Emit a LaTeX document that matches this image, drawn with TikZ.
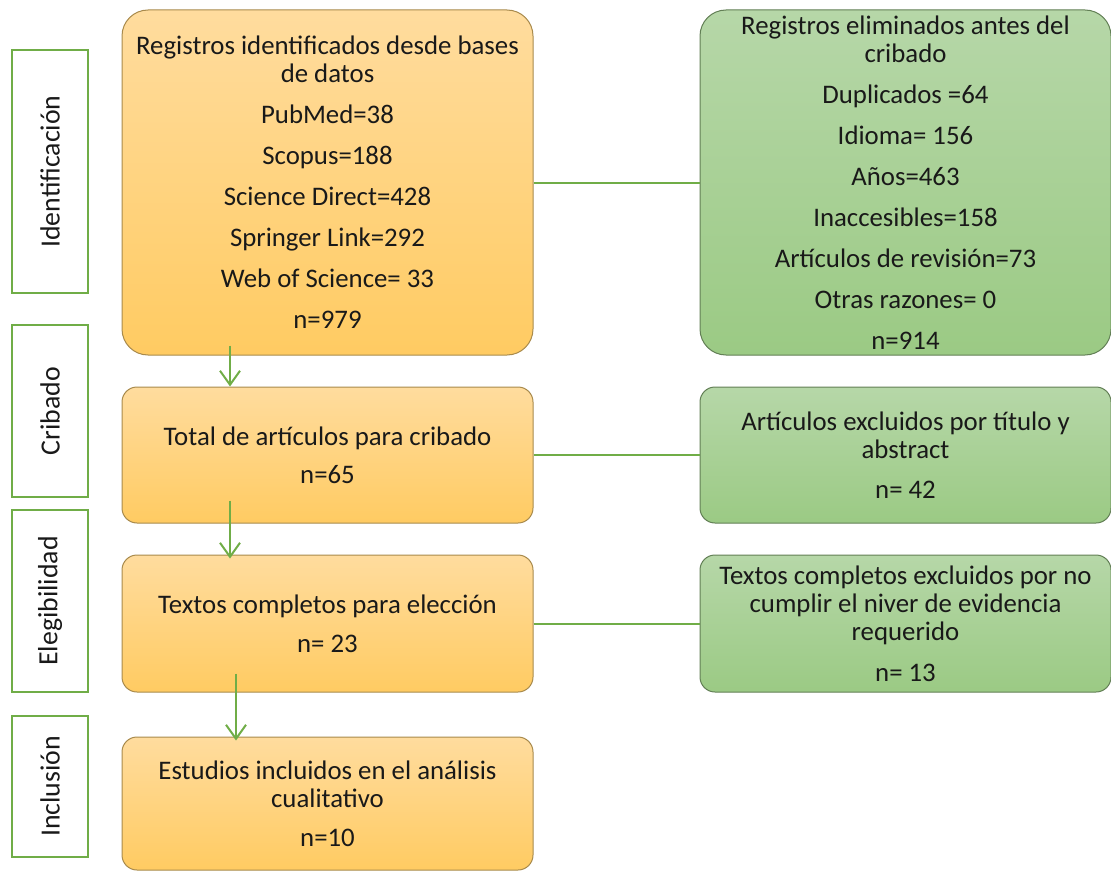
\documentclass[tikz,border=0pt]{standalone}
\usepackage{fontspec}
\setmainfont{Carlito}
\usetikzlibrary{arrows.meta}
\definecolor{lgreen}{HTML}{70AD47}
\definecolor{otop}{HTML}{FFDC9E}
\definecolor{obot}{HTML}{FFCB62}
\definecolor{oborder}{HTML}{A88A4C}
\definecolor{gtop}{HTML}{B6D7A8}
\definecolor{gbot}{HTML}{9BCA84}
\definecolor{gborder}{HTML}{627F55}
\tikzset{
  base/.style={inner sep=0pt, align=center, font=\fontsize{26.8}{28}\selectfont, text=black!90},
  obox/.style={base, draw=oborder, line width=1pt, top color=otop, bottom color=obot},
  gbox/.style={base, draw=gborder, line width=1pt, top color=gtop, bottom color=gbot},
  lblbox/.style={base, font=\fontsize{27.8}{30}\selectfont, draw=lgreen, line width=2pt, fill=white, rotate=90, minimum height=76pt},
  conn/.style={draw=lgreen, line width=2pt},
  arr/.style={conn, -{Straight Barb[length=14pt,width=20pt,line width=2pt]}}
}
\begin{document}
\begin{tikzpicture}[x=1pt,y=-1pt]
\useasboundingbox (0,0) rectangle (1111,872);
% stage labels
\node[lblbox, minimum width=243pt] (l1) at (50,171.5) {Identificación};
\node[lblbox, minimum width=172pt] (l2) at (50,411) {Cribado};
\node[lblbox, minimum width=182pt] (l3) at (50,601) {Elegibilidad};
\node[lblbox, minimum width=141pt] (l4) at (50,786.5) {Inclusión};
% orange boxes
\node[obox, rounded corners=26pt, minimum width=411pt, minimum height=345pt] (b1) at (327.5,182.5)
  {Registros identificados desde bases\\de datos\\[13pt]PubMed=38\\[13pt]Scopus=188\\[13pt]Science Direct=428\\[13pt]Springer Link=292\\[13pt]Web of Science= 33\\[13pt]n=979};
\node[obox, rounded corners=15pt, minimum width=411pt, minimum height=136pt] (b2) at (327.5,455)
  {Total de artículos para cribado\\[10pt]n=65};
\node[obox, rounded corners=15pt, minimum width=411pt, minimum height=137pt] (b3) at (327.5,623.5)
  {Textos completos para elección\\[11pt]n= 23};
\node[obox, rounded corners=15pt, minimum width=411pt, minimum height=133pt] (b4) at (327.5,803.5)
  {Estudios incluidos en el análisis\\cualitativo\\[11pt]n=10};
% green boxes
\node[gbox, rounded corners=26pt, minimum width=411pt, minimum height=345pt] (g1) at (905.5,182.5)
  {Registros eliminados antes del\\cribado\\[13pt]Duplicados =64\\[13pt]Idioma= 156\\[13pt]Años=463\\[13pt]Inaccesibles=158\\[13pt]Artículos de revisión=73\\[13pt]Otras razones= 0\\[13pt]n=914};
\node[gbox, rounded corners=15pt, minimum width=411pt, minimum height=136pt] (g2) at (905.5,455)
  {Artículos excluidos por título y\\abstract\\[12pt]n= 42};
\node[gbox, rounded corners=15pt, minimum width=411pt, minimum height=137pt] (g3) at (905.5,623.5)
  {Textos completos excluidos por no\\cumplir el niver de evidencia\\requerido\\[13pt]n= 13};
% connectors
\draw[conn] (b1.east) -- (g1.west);
\draw[conn] (b2.east) -- (g2.west);
\draw[conn] (b3.east) -- (g3.west);
\draw[arr] ([xshift=-97.5pt,yshift=10pt]b1.south) -- ([xshift=-97.5pt]b2.north);
\draw[arr] ([xshift=-97.5pt,yshift=23pt]b2.south) -- ([xshift=-97.5pt,yshift=-4pt]b3.north);
\draw[arr] ([xshift=-91.5pt,yshift=19pt]b3.south) -- ([xshift=-91.5pt,yshift=-4pt]b4.north);
\end{tikzpicture}
\end{document}
